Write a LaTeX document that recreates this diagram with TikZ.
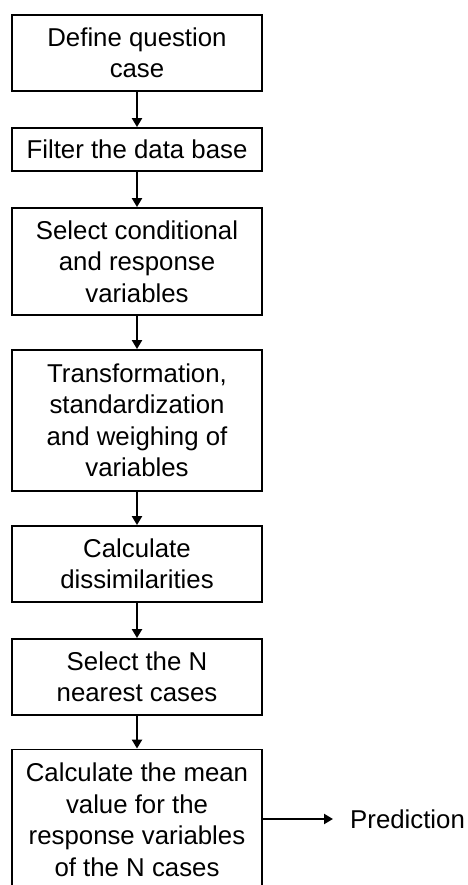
\documentclass[tikz,border=0pt]{standalone}
\usepackage{fontspec}
\setmainfont{Liberation Sans}
\usetikzlibrary{arrows.meta}
\begin{document}
\begin{tikzpicture}[x=1pt,y=-1pt,
  stepbox/.style={draw=black, line width=1.8pt, rectangle, minimum width=250pt,
    align=center, inner sep=0pt, font=\fontsize{25.8}{31.5}\selectfont, text=black},
  flow/.style={line width=2.2pt, -{Triangle[length=9pt,width=10pt]}}]
\useasboundingbox (0,0) rectangle (467,885);
\node[stepbox, minimum height=76pt] (b1) at (137,53) {Define question\\case};
\node[stepbox, minimum height=43pt] (b2) at (137,149.5) {Filter the data base};
\node[stepbox, minimum height=107pt] (b3) at (137,261.5) {Select conditional\\and response\\variables};
\node[stepbox, minimum height=141pt] (b4) at (137,420.5) {Transformation,\\standardization\\and weighing of\\variables};
\node[stepbox, minimum height=76pt] (b5) at (137,564) {Calculate\\dissimilarities};
\node[stepbox, minimum height=76pt] (b6) at (137,677) {Select the N\\nearest cases};
\node[stepbox, minimum height=141pt] (b7) at (137,820) {Calculate the mean\\value for the\\response variables\\of the N cases};
\node[anchor=west, inner xsep=17pt, inner ysep=0pt, font=\fontsize{25.8}{31.5}\selectfont] (pred) at (333,819) {Prediction};
\draw[flow] (b1) -- (b2);
\draw[flow] (b2) -- (b3);
\draw[flow] (b3) -- (b4);
\draw[flow] (b4) -- (b5);
\draw[flow] (b5) -- (b6);
\draw[flow] (b6) -- (b7);
\draw[flow] (b7.east |- pred.west) -- (pred.west);
\end{tikzpicture}
\end{document}
